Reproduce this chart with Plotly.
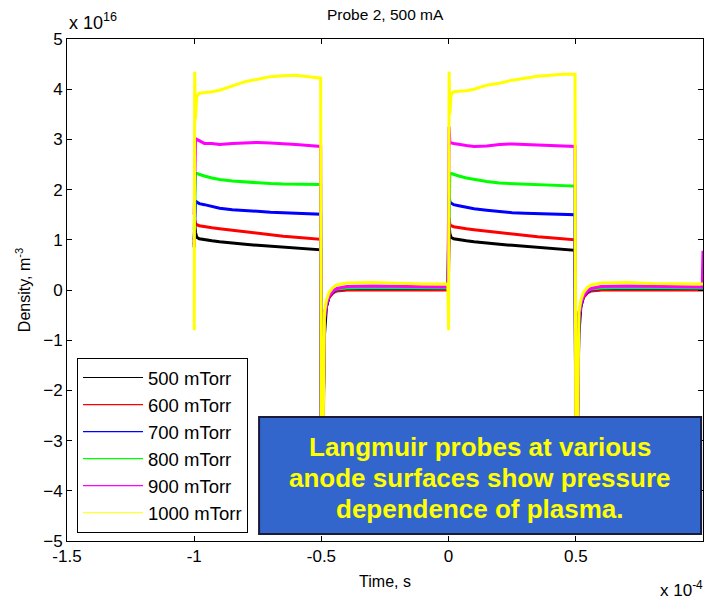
import plotly.graph_objects as go

# Time in units of 1e-4 s
time_e4 = [-1.0, -0.998, -0.995, -0.99, -0.98, -0.96, -0.93, -0.9, -0.85, -0.8, -0.75, -0.7, -0.65, -0.6, -0.55,
           -0.503, -0.5, -0.493, -0.488, -0.48, -0.47, -0.455, -0.44, -0.4, -0.3, -0.2, -0.1, -0.003,
           0.0, 0.002, 0.005, 0.01, 0.02, 0.04, 0.07, 0.1, 0.15, 0.2, 0.25, 0.3, 0.35, 0.4, 0.45,
           0.497, 0.5, 0.507, 0.512, 0.52, 0.53, 0.545, 0.56, 0.6, 0.7, 0.8, 0.9, 0.997, 1.0]

# Densities in units of 1e16 m^-3
d500 = [0.85, 1.3, 1.15, 1.05, 1.02, 1.0, 0.98, 0.96, 0.93, 0.91, 0.89, 0.87, 0.86, 0.84, 0.82,
        0.8, -3.0, -2.4, -0.9, -0.32, -0.14, -0.05, -0.01, 0.01, 0.02, 0.02, 0.02, 0.02,
        0.6, 1.3, 1.12, 1.05, 1.02, 1.0, 0.98, 0.96, 0.93, 0.91, 0.89, 0.87, 0.85, 0.83, 0.81,
        0.79, -3.0, -2.4, -0.9, -0.32, -0.14, -0.05, -0.01, 0.01, 0.02, 0.02, 0.02, 0.02, 0.02]
d600 = [0.9, 1.4, 1.33, 1.3, 1.28, 1.26, 1.24, 1.22, 1.19, 1.15, 1.12, 1.1, 1.07, 1.05, 1.03,
        1.01, -3.2, -2.5, -0.45, -0.3, -0.15, -0.06, -0.02, 0.0, 0.0, 0.0, 0.0, 0.0,
        0.4, 1.45, 1.3, 1.28, 1.26, 1.24, 1.22, 1.2, 1.17, 1.14, 1.11, 1.08, 1.06, 1.04, 1.02,
        1.0, -3.2, -2.5, -0.45, -0.3, -0.15, -0.06, -0.02, 0.0, 0.0, 0.0, 0.0, 0.0, 0.0]
d700 = [1.0, 1.5, 1.78, 1.75, 1.72, 1.7, 1.67, 1.63, 1.6, 1.58, 1.56, 1.55, 1.54, 1.53, 1.52,
        1.51, -3.3, -2.6, -0.5, -0.3, -0.12, -0.04, 0.01, 0.03, 0.03, 0.03, 0.03, 0.03,
        0.9, 1.9, 1.75, 1.73, 1.7, 1.68, 1.65, 1.62, 1.59, 1.56, 1.54, 1.53, 1.52, 1.51, 1.5,
        1.5, -3.3, -2.6, -0.5, -0.3, -0.12, -0.04, 0.01, 0.03, 0.03, 0.03, 0.03, 0.03, 0.03]
d800 = [1.2, 2.0, 2.3, 2.32, 2.3, 2.27, 2.23, 2.2, 2.17, 2.15, 2.13, 2.12, 2.11, 2.11, 2.1,
        2.1, -3.4, -2.7, -0.55, -0.25, -0.1, -0.02, 0.02, 0.04, 0.05, 0.05, 0.04, 0.04,
        1.1, 2.1, 2.3, 2.32, 2.3, 2.27, 2.23, 2.2, 2.16, 2.13, 2.12, 2.11, 2.1, 2.09, 2.08,
        2.07, -3.4, -2.7, -0.55, -0.25, -0.1, -0.02, 0.02, 0.04, 0.05, 0.05, 0.04, 0.04, 0.04]
d900 = [1.5, 2.6, 2.95, 3.0, 2.97, 2.92, 2.92, 2.9, 2.92, 2.93, 2.94, 2.93, 2.92, 2.9, 2.88,
        2.86, -3.6, -3.0, -0.6, -0.28, -0.12, -0.02, 0.03, 0.07, 0.08, 0.07, 0.07, 0.06,
        1.6, 3.25, 2.95, 2.93, 2.92, 2.9, 2.88, 2.86, 2.87, 2.9, 2.91, 2.9, 2.89, 2.88, 2.87,
        2.86, -3.6, -3.0, -0.6, -0.28, -0.12, -0.02, 0.03, 0.07, 0.08, 0.07, 0.07, 0.06, 0.78]
d1000 = [-0.8, 4.35, 3.4, 3.85, 3.92, 3.93, 3.95, 3.98, 4.07, 4.15, 4.2, 4.25, 4.27, 4.28, 4.25,
         4.22, -3.5, -2.8, -0.45, -0.2, -0.05, 0.05, 0.1, 0.14, 0.15, 0.13, 0.12, 0.12,
         -0.8, 4.35, 3.5, 3.9, 3.95, 3.96, 3.97, 4.0, 4.08, 4.12, 4.18, 4.22, 4.26, 4.28, 4.3,
         4.3, -3.5, -2.8, -0.45, -0.2, -0.05, 0.05, 0.1, 0.14, 0.15, 0.13, 0.12, 0.12, 0.12]

series = [("500 mTorr", d500, "#000000"), ("600 mTorr", d600, "#FF0000"),
          ("700 mTorr", d700, "#0000FF"), ("800 mTorr", d800, "#00FF00"),
          ("900 mTorr", d900, "#FF00FF"), ("1000 mTorr", d1000, "#FFFF00")]

x_ticks = [-1.5, -1, -0.5, 0, 0.5, 1]
x_tick_text = ["-1.5", "-1", "-0.5", "0", "0.5", "1"]
y_ticks = [-5, -4, -3, -2, -1, 0, 1, 2, 3, 4, 5]

callout_lines = ["Langmuir probes at various", "anode surfaces show pressure", "dependence of plasma."]

fig = go.Figure()
for i, (name, vals, col) in enumerate(series):
    fig.add_trace(go.Scatter(x=time_e4, y=vals, mode="lines", name=name,
                             line=dict(color=col, width=3), showlegend=False))
for i, (name, vals, col) in enumerate(series):
    fig.add_trace(go.Scatter(x=[None], y=[None], mode="lines", name=name,
                             legendgroup="g%d" % i,
                             line=dict(color=col, width=1.2), showlegend=True))

FONT = "Arial, Liberation Sans, sans-serif"
axis_common = dict(showgrid=False, zeroline=False, showline=True, linecolor="black", linewidth=1,
                   mirror="allticks", ticks="inside", ticklen=5, tickcolor="black",
                   tickfont=dict(family=FONT, size=17, color="black"))
fig.update_xaxes(range=[-1.5, 1], tickvals=x_ticks, ticktext=x_tick_text,
                 title=dict(text="Time, s", font=dict(family=FONT, size=16, color="black"), standoff=10),
                 **axis_common)
fig.update_yaxes(range=[-5, 5], tickvals=y_ticks,
                 title=dict(text="Density, m<sup>-3</sup>", font=dict(family=FONT, size=16, color="black"), standoff=8),
                 **axis_common)

annots = [
    dict(text="Probe 2, 500 mA", xref="paper", yref="paper", x=0.5, y=1, yanchor="bottom",
         yshift=14, showarrow=False, font=dict(family=FONT, size=15.5, color="black")),
    dict(text="x 10<sup>16</sup>", xref="paper", yref="paper", x=0, y=1, xanchor="left",
         yanchor="bottom", yshift=4, showarrow=False, font=dict(family=FONT, size=18, color="black")),
    dict(text="x 10<sup>-4</sup>", xref="paper", yref="paper", x=1, y=0, xanchor="right",
         yanchor="top", yshift=-35, xshift=2, showarrow=False, font=dict(family=FONT, size=17, color="black")),
]
for line_text, ypos in zip(callout_lines, [0.1873, 0.1255, 0.0637]):
    annots.append(dict(text="<b>%s</b>" % line_text, xref="paper", yref="paper", x=0.649, y=ypos,
                       xanchor="center", yanchor="middle", showarrow=False,
                       font=dict(family=FONT, size=26, color="#FFFF00")))

fig.update_layout(
    width=706, height=603,
    margin=dict(l=67, r=3, t=39, b=62),
    paper_bgcolor="white", plot_bgcolor="white",
    font=dict(family=FONT, color="black"),
    legend=dict(x=0.0157, y=0.016, xanchor="left", yanchor="bottom",
                bgcolor="white", bordercolor="black", borderwidth=1,
                font=dict(family=FONT, size=18.5, color="black"),
                itemwidth=60, tracegroupgap=0, traceorder="normal"),
    shapes=[dict(type="rect", xref="paper", yref="paper", x0=0.302, x1=0.997, y0=0.014, y1=0.247,
                 fillcolor="#3366CC", line=dict(color="#1a1a3a", width=2), layer="above")],
    annotations=annots,
)

fig.write_html("out.html")
